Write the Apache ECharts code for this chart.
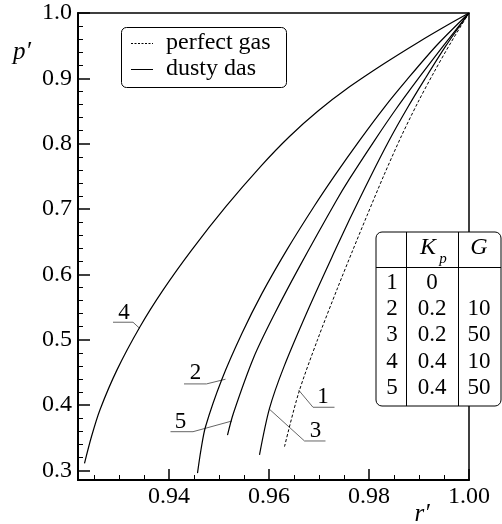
<!DOCTYPE html>
<html>
<head>
<meta charset="utf-8">
<script src="https://cdn.jsdelivr.net/npm/echarts@6/dist/echarts.min.js"></script>
<style>
  html, body { margin: 0; padding: 0; background: #fff; }
  #chart { width: 502px; height: 524px; }
</style>
</head>
<body>
<div id="chart"></div>
<script>
const FONT = "Liberation Serif";

// axis ticks
const xMajor = [0.94, 0.96, 0.98, 1.00];
const xMinor = [0.925, 0.93, 0.935, 0.945, 0.95, 0.955, 0.965, 0.97, 0.975, 0.985, 0.99, 0.995];
const yMajor = [0.3, 0.4, 0.5, 0.6, 0.7, 0.8, 0.9, 1.0];
const yMinor = [0.32, 0.34, 0.36, 0.38, 0.42, 0.44, 0.46, 0.48, 0.52, 0.54, 0.56, 0.58,
  0.62, 0.64, 0.66, 0.68, 0.72, 0.74, 0.76, 0.78, 0.82, 0.84, 0.86, 0.88, 0.92, 0.94, 0.96, 0.98];

// curves, [r', p']
const curve1 = [[0.9631, 0.3365], [0.9659, 0.418], [0.9697, 0.500], [0.9737, 0.579], [0.9767, 0.636],
  [0.9796, 0.690], [0.9830, 0.752], [0.9865, 0.812], [0.9897, 0.862], [0.9929, 0.908], [0.9964, 0.955], [1.0, 1.0]];
const curve2 = [[0.9457, 0.296], [0.9464, 0.332], [0.9473, 0.367], [0.9506, 0.440], [0.9546, 0.510],
  [0.9586, 0.571], [0.9636, 0.638], [0.9690, 0.704], [0.9732, 0.752], [0.9782, 0.806], [0.9830, 0.855],
  [0.9876, 0.898], [0.9936, 0.951], [1.0, 1.0]];
const curve3 = [[0.9581, 0.324], [0.9601, 0.395], [0.9630, 0.459], [0.9681, 0.551], [0.9734, 0.640],
  [0.9761, 0.684], [0.9800, 0.745], [0.9841, 0.806], [0.9877, 0.855], [0.9911, 0.898], [0.9954, 0.950], [1.0, 1.0]];
const curve4 = [[0.9231, 0.311], [0.9245, 0.352], [0.9262, 0.393], [0.9296, 0.454], [0.9342, 0.520],
  [0.9388, 0.576], [0.9446, 0.638], [0.9514, 0.704], [0.9583, 0.765], [0.9641, 0.811], [0.9698, 0.850],
  [0.9761, 0.887], [0.9829, 0.922], [0.9898, 0.955], [0.9958, 0.982], [1.0, 1.0]];
const curve5 = [[0.9517, 0.354], [0.9529, 0.388], [0.9570, 0.474], [0.9612, 0.541], [0.9661, 0.612],
  [0.9734, 0.712], [0.9760, 0.745], [0.9812, 0.806], [0.9853, 0.852], [0.9897, 0.898], [0.9949, 0.950], [1.0, 1.0]];

// curve numbers and leader lines
const labelNames = ["1", "2", "3", "4", "5"];
const labelPos = [[0.9708, 0.413], [0.9453, 0.449], [0.9693, 0.361], [0.9310, 0.541], [0.9423, 0.375]];
const leaders = [
  [[0.9659, 0.4233], [0.9688, 0.3968], [0.9731, 0.3968]],
  [[0.9430, 0.4325], [0.9475, 0.4325], [0.9513, 0.4397]],
  [[0.9601, 0.3937], [0.9671, 0.3452], [0.9713, 0.3452]],
  [[0.9288, 0.5269], [0.9328, 0.5269], [0.9341, 0.5177]],
  [[0.9403, 0.3594], [0.9448, 0.3594], [0.9526, 0.3758]]
];

// legend
const legendNames = ["perfect gas", "dusty das"];

// parameter table
const tableHead = ["", "K", "G"];
const tableNo = ["1", "2", "3", "4", "5"];
const tableKp = ["0", "0.2", "0.2", "0.4", "0.4"];
const tableG = ["", "10", "50", "10", "50"];

const X_MIN = 0.9218, Y_MIN = 0.2855;

const chart = echarts.init(document.getElementById("chart"));

function curve(name, data, dashed) {
  return {
    type: "line", name, data, symbol: "none", smooth: 0.3, z: 3,
    lineStyle: { color: "#000", width: dashed ? 1 : 1.2, type: dashed ? [3, 2] : "solid" }
  };
}

const leaderSeries = leaders.map(pts => ({
  type: "line", data: pts, symbol: "none", silent: true, z: 2,
  lineStyle: { color: "#666", width: 1 }
}));

const txt = (extra) => Object.assign({ fontFamily: FONT, fontSize: 23, fill: "#000", align: "center", verticalAlign: "middle" }, extra);

chart.setOption({
  animation: false,
  backgroundColor: "#fff",
  grid: { left: 78, right: 33, top: 13, bottom: 44, show: true, borderColor: "#000", borderWidth: 1.5 },
  xAxis: [{
    type: "value", min: X_MIN, max: 1.0,
    axisLine: { lineStyle: { color: "#000", width: 2 } },
    axisTick: { inside: true, length: 11, lineStyle: { color: "#000", width: 1.5 }, customValues: xMajor },
    axisLabel: { show: false },
    splitLine: { show: false }
  }, {
    type: "value", min: X_MIN, max: 1.0, position: "bottom",
    axisLine: { show: false },
    axisTick: { inside: true, length: 5, lineStyle: { color: "#000", width: 1 }, customValues: xMinor },
    axisLabel: { show: false }, splitLine: { show: false }
  }],
  yAxis: [{
    type: "value", min: Y_MIN, max: 1.0,
    axisLine: { show: true, lineStyle: { color: "#000", width: 2 } },
    axisTick: { show: true, inside: true, length: 12, lineStyle: { color: "#000", width: 1.5 }, customValues: yMajor },
    axisLabel: { show: false },
    splitLine: { show: false }
  }, {
    type: "value", min: Y_MIN, max: 1.0, position: "left",
    axisLine: { show: false },
    axisTick: { show: true, inside: true, length: 5, lineStyle: { color: "#000", width: 1 }, customValues: yMinor },
    axisLabel: { show: false }, splitLine: { show: false }
  }],
  series: [
    curve("perfect gas", curve1, true),
    curve("dusty das", curve2, false),
    curve("dusty das", curve3, false),
    curve("dusty das", curve4, false),
    curve("dusty das", curve5, false),
    ...leaderSeries
  ]
});

// tick labels and curve numbers, placed through the axes' own scales
const xPx = v => chart.convertToPixel({ xAxisIndex: 0 }, v);
const yPx = v => chart.convertToPixel({ yAxisIndex: 0 }, v);
const x0 = xPx(X_MIN), y0 = yPx(Y_MIN);

const tickGraphics = [];
xMajor.forEach(v => {
  tickGraphics.push({ type: "text", x: xPx(v), y: y0 + 17, style: txt({ text: v.toFixed(2), fontSize: 24 }) });
});
yMajor.forEach(v => {
  tickGraphics.push({ type: "text", x: x0 - 6, y: yPx(v), style: txt({ text: v.toFixed(1), fontSize: 24, align: "right" }) });
});
labelPos.forEach((p, i) => {
  tickGraphics.push({ type: "text", x: xPx(p[0]), y: yPx(p[1]), style: txt({ text: labelNames[i] }) });
});

const tableGraphics = [
  { type: "rect", shape: { x: 376, y: 232, width: 125, height: 174, r: 6 },
    style: { fill: "#fff", stroke: "#000", lineWidth: 1 } },
  { type: "line", shape: { x1: 406.5, y1: 232, x2: 406.5, y2: 406 }, style: { stroke: "#000", lineWidth: 1 } },
  { type: "line", shape: { x1: 458.5, y1: 232, x2: 458.5, y2: 406 }, style: { stroke: "#000", lineWidth: 1 } },
  { type: "line", shape: { x1: 376, y1: 267.5, x2: 501, y2: 267.5 }, style: { stroke: "#000", lineWidth: 1 } },
  { type: "text", x: 428, y: 248, style: txt({ text: tableHead[1], fontStyle: "italic", fontSize: 24 }) },
  { type: "text", x: 443, y: 259, style: txt({ text: "p", fontStyle: "italic", fontSize: 15 }) },
  { type: "text", x: 479, y: 248, style: txt({ text: tableHead[2], fontStyle: "italic", fontSize: 24 }) }
];
tableNo.forEach((n, i) => {
  const y = 283 + i * 26.2;
  tableGraphics.push({ type: "text", x: 392, y, style: txt({ text: n }) });
  tableGraphics.push({ type: "text", x: 432, y, style: txt({ text: tableKp[i] }) });
  tableGraphics.push({ type: "text", x: 479, y, style: txt({ text: tableG[i] }) });
});

const legendGraphics = [
  { type: "rect", shape: { x: 121.5, y: 27.5, width: 165, height: 60, r: 5 },
    style: { fill: "#fff", stroke: "#000", lineWidth: 1 } },
  { type: "line", shape: { x1: 131, y1: 43.5, x2: 153, y2: 43.5 }, style: { stroke: "#000", lineWidth: 1, lineDash: [2, 1.5] } },
  { type: "line", shape: { x1: 131, y1: 69.5, x2: 153, y2: 69.5 }, style: { stroke: "#000", lineWidth: 1 } },
  { type: "text", x: 166, y: 43, style: txt({ text: legendNames[0], align: "left", fontSize: 24 }) },
  { type: "text", x: 166, y: 69, style: txt({ text: legendNames[1], align: "left", fontSize: 24 }) }
];

chart.setOption({
  graphic: [
    { type: "text", x: 22, y: 52, style: txt({ text: "p\u2032", fontStyle: "italic", fontSize: 25 }) },
    { type: "text", x: 422, y: 514, style: txt({ text: "r\u2032", fontStyle: "italic", fontSize: 25 }) },
    { type: "group", z: 50, children: tickGraphics },
    { type: "group", z: 100, children: legendGraphics },
    { type: "group", z: 100, children: tableGraphics }
  ]
});

window.addEventListener("resize", () => chart.resize());
</script>
</body>
</html>
